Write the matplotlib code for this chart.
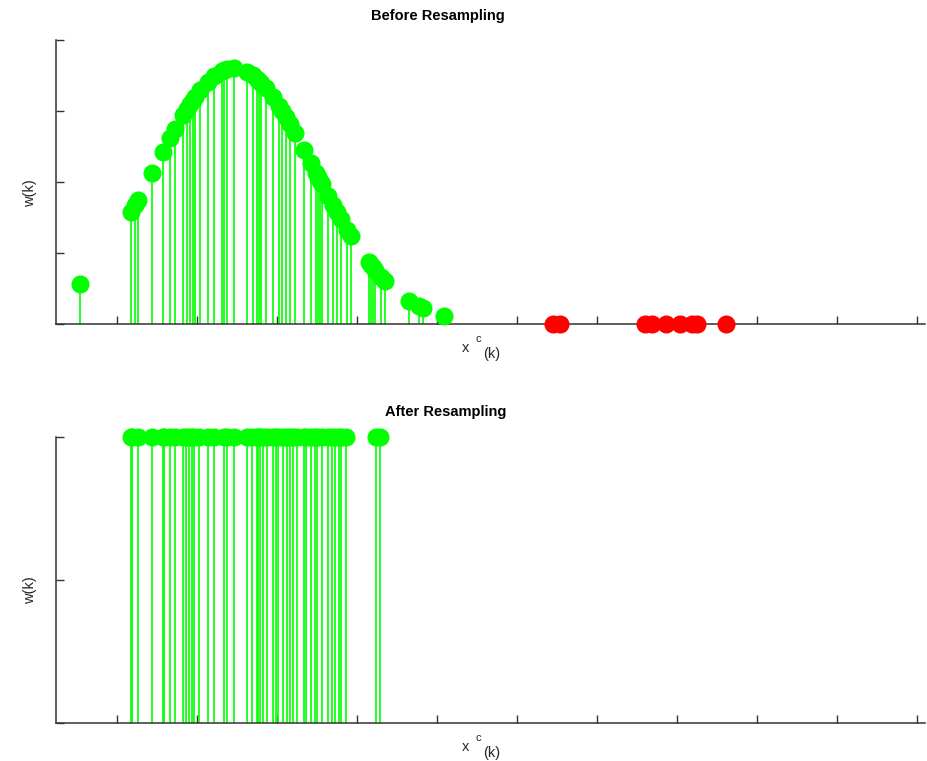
import matplotlib
matplotlib.use("Agg")
import matplotlib.pyplot as plt

plt.rcParams['font.family'] = ['Liberation Sans', 'DejaVu Sans']

# particle states and weights before resampling (kept particles)
x_before = [-0.4625, 0.175, 0.225, 0.2625, 0.4375, 0.575, 0.6625, 0.725, 0.825,
            0.875, 0.9125, 0.95, 0.975, 1.0375, 1.1375, 1.2125, 1.3125, 1.3375,
            1.375, 1.4625, 1.625, 1.7, 1.75, 1.775, 1.8, 1.8625, 1.95, 2.025,
            2.0625, 2.1125, 2.1625, 2.225, 2.3375, 2.425, 2.4875, 2.5125, 2.5375,
            2.5625, 2.6375, 2.7, 2.75, 2.8, 2.875, 2.925, 3.15, 3.175, 3.2, 3.225,
            3.3, 3.35, 3.65, 3.775, 3.825, 4.0875]
w_before = [0.00565, 0.01572, 0.01674, 0.01752, 0.02129, 0.02428, 0.02614, 0.02743,
            0.02938, 0.03029, 0.03095, 0.03157, 0.03197, 0.03289, 0.03415, 0.03489,
            0.03560, 0.03572, 0.03586, 0.03600, 0.03553, 0.03500, 0.03454, 0.03428,
            0.03401, 0.03323, 0.03197, 0.03073, 0.03007, 0.02915, 0.02818, 0.02692,
            0.02455, 0.02266, 0.02129, 0.02074, 0.02020, 0.01966, 0.01805, 0.01674,
            0.01572, 0.01472, 0.01328, 0.01236, 0.00867, 0.00831, 0.00796, 0.00762,
            0.00666, 0.00606, 0.00329, 0.00249, 0.00221, 0.00115]

# particles with zero weight
x_dead = [5.45, 5.5375, 6.6, 6.6875, 6.8625, 7.0375, 7.1875, 7.25, 7.6125]
w_dead = [0.0, 0.0, 0.0, 0.0, 0.0, 0.0, 0.0, 0.0, 0.0]

# particle states after resampling (equal weights)
x_after = [0.175, 0.1875, 0.2625, 0.4375, 0.575, 0.5875, 0.6625, 0.725, 0.825,
           0.8625, 0.9, 0.9375, 0.9625, 1.025, 1.1375, 1.2125, 1.3375, 1.375,
           1.4625, 1.625, 1.6875, 1.75, 1.7625, 1.7875, 1.825, 1.875, 1.95, 1.9875,
           2.0125, 2.075, 2.125, 2.1625, 2.2, 2.25, 2.3375, 2.3625, 2.425, 2.475,
           2.5, 2.5625, 2.6375, 2.6875, 2.725, 2.775, 2.8, 2.8625, 3.2375, 3.2875]
w_after = [1.0] * len(x_after)

x_ticks = [0, 1, 2, 3, 4, 5, 6, 7, 8, 9, 10]
top_yticks = [0, 0.01, 0.02, 0.03, 0.04]
bottom_yticks = [0, 0.5, 1.0]

W, H = 928, 761
fig = plt.figure(figsize=(W / 100, H / 100), dpi=100)

GREEN = (0.0, 1.0, 0.0)
RED = (1.0, 0.0, 0.0)
AXCOL = '#333333'
TXT = '#262626'


def px_axes(left, top, right, bottom):
    return fig.add_axes([left / W, 1 - bottom / H, (right - left) / W, (bottom - top) / H])


def draw_stems(ax, xs, ws, color):
    cont = ax.stem(xs, ws, basefmt=' ')
    cont.stemlines.set_color(color)
    cont.stemlines.set_linewidth(1.2)
    cont.markerline.set_color(color)
    cont.markerline.set_markerfacecolor(color)
    cont.markerline.set_markeredgecolor(color)
    cont.markerline.set_markersize(12)
    cont.markerline.set_zorder(5)
    cont.markerline.set_clip_on(False)
    cont.stemlines.set_clip_on(False)


def style_axes(ax, yticks, ylim):
    ax.set_xlim(-0.7625, 10.1)
    ax.set_ylim(*ylim)
    ax.set_xticks(x_ticks)
    ax.set_yticks(yticks)
    ax.set_xticklabels([])
    ax.set_yticklabels([])
    for s in ('top', 'right'):
        ax.spines[s].set_visible(False)
    for s in ('left', 'bottom'):
        ax.spines[s].set_color(AXCOL)
        ax.spines[s].set_linewidth(1.1)
        ax.spines[s].set_zorder(2)
    ax.tick_params(direction='in', length=6, width=1.0, color=AXCOL)


def xc_label(y_base):
    # x^c_(k) written as three pieces of text
    fig.text(462 / W, 1 - y_base / H, 'x', fontsize=10.5, color=TXT,
             ha='left', va='baseline')
    fig.text(476 / W, 1 - (y_base - 10) / H, 'c', fontsize=8, color=TXT,
             ha='left', va='baseline')
    fig.text(483 / W, 1 - (y_base + 6) / H, '(k)', fontsize=10.5, color=TXT,
             ha='left', va='baseline')


# top panel
ax1 = px_axes(56, 40, 925, 324)
draw_stems(ax1, x_before, w_before, GREEN)
draw_stems(ax1, x_dead, w_dead, RED)
style_axes(ax1, top_yticks, (0, 0.04))
fig.text(438 / W, 1 - 16 / H, 'Before Resampling', fontsize=10.5, fontweight='bold',
         ha='center', va='center')
fig.text(30 / W, 1 - 193 / H, 'w(k)', fontsize=10.5, rotation=90, color=TXT,
         ha='center', va='center')
xc_label(352)

# bottom panel
ax2 = px_axes(56, 437, 925, 723)
draw_stems(ax2, x_after, w_after, GREEN)
style_axes(ax2, bottom_yticks, (0, 1.0))
fig.text(446 / W, 1 - 412 / H, 'After Resampling', fontsize=10.5, fontweight='bold',
         ha='center', va='center')
fig.text(30 / W, 1 - 590 / H, 'w(k)', fontsize=10.5, rotation=90, color=TXT,
         ha='center', va='center')
xc_label(751)

fig.savefig('out.png', dpi=100)
